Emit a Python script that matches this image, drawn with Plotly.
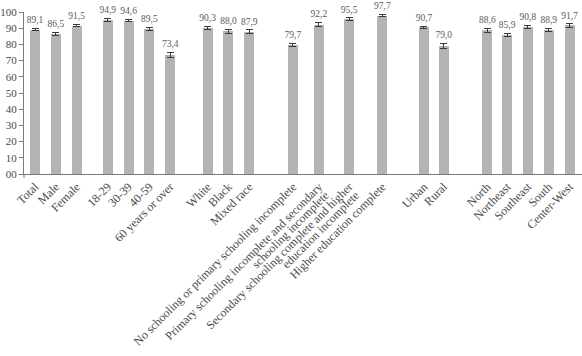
import plotly.graph_objects as go

# ---- data ----
groups = [
    ["Total", "Male", "Female"],
    ["18-29", "30-39", "40-59", "60 years or over"],
    ["White", "Black", "Mixed race"],
    ["No schooling or primary schooling incomplete",
     "Primary schooling incomplete and secondary\nschooling incomplete",
     "Secondary schooling complete and higher\neducation incomplete",
     "Higher education complete"],
    ["Urban", "Rural"],
    ["North", "Northeast", "Southeast", "South", "Center-West"],
]
values = [89.1, 86.5, 91.5,
          94.9, 94.6, 89.5, 73.4,
          90.3, 88.0, 87.9,
          79.7, 92.2, 95.5, 97.7,
          90.7, 79.0,
          88.6, 85.9, 90.8, 88.9, 91.7]
errors = [0.6, 0.7, 0.7,
          1.0, 0.7, 1.0, 1.5,
          0.8, 1.5, 1.0,
          0.8, 1.2, 0.8, 0.7,
          0.6, 1.5,
          1.5, 0.9, 0.9, 1.2, 1.0]
y_ticks = [0, 10, 20, 30, 40, 50, 60, 70, 80, 90, 100]
y_tick_labels = ["00", "10", "20", "30", "40", "50", "60", "70", "80", "90", "100"]

# ---- layout of slots (spacing between groups / within groups) ----
group_gap = [0, 1.5, 1.8, 2.1, 2.0, 2.1]
group_step = [[1, 1], [1, 1, 1], [1, 1], [1.25, 1.45, 1.6], [0.95], [0.95, 1, 1, 1]]
line2_shift = 0.72          # tick shift (slot units) emulating a second label line
line2_pad = "\u00a0" * 4    # trailing padding for the second line

labels, xpos = [], []
cur = None
for gi, grp in enumerate(groups):
    for i, lab in enumerate(grp):
        if cur is None:
            cur = 0.0
        elif i == 0:
            cur += group_gap[gi]
        else:
            cur += group_step[gi][i - 1]
        labels.append(lab)
        xpos.append(cur)

# tick labels: multi-line labels are split so that lines stay end-aligned
tick_vals, tick_text = [], []
for x, lab in zip(xpos, labels):
    parts = lab.split("\n")
    tick_vals.append(x)
    tick_text.append(parts[0])
    for k, p in enumerate(parts[1:], start=1):
        tick_vals.append(x + line2_shift * k)
        tick_text.append(p + line2_pad * k)

text_vals = [f"{v:.1f}".replace(".", ",") for v in values]
tops = [v + e for v, e in zip(values, errors)]

font_family = "Liberation Serif, Times New Roman, serif"

fig = go.Figure()
fig.add_trace(go.Bar(
    x=xpos, y=values, width=0.48,
    marker=dict(color="#b4b4b4", line=dict(width=0)),
    error_y=dict(type="data", array=errors, visible=True,
                 color="#3a3a3a", thickness=1, width=3.5),
    hoverinfo="skip",
))
fig.add_trace(go.Scatter(
    x=xpos, y=tops, mode="markers+text", text=text_vals,
    textposition="top center",
    marker=dict(size=3, opacity=0),
    textfont=dict(family=font_family, size=9.5, color="#5a5a5a"),
    cliponaxis=False, hoverinfo="skip",
))

fig.update_layout(
    width=582, height=356,
    margin=dict(l=24, r=0, t=11.5, b=182),
    paper_bgcolor="white", plot_bgcolor="white",
    showlegend=False,
    bargap=0,
    xaxis=dict(
        range=[-0.53, 26.3],
        tickmode="array", tickvals=tick_vals, ticktext=tick_text,
        tickangle=-45,
        tickfont=dict(family=font_family, size=12, color="#4a4a4a"),
        showline=True, linecolor="#7a7a7a", linewidth=1,
        showgrid=False, zeroline=False, ticks="",
    ),
    yaxis=dict(
        range=[0, 100],
        tickmode="array", tickvals=y_ticks, ticktext=y_tick_labels,
        tickfont=dict(family=font_family, size=11, color="#4a4a4a"),
        showline=True, linecolor="#7a7a7a", linewidth=1,
        ticks="outside", ticklen=4, tickcolor="#7a7a7a",
        showgrid=False, zeroline=False,
    ),
    shapes=[dict(type="line", xref="paper", yref="paper",
                 x0=0, x1=0, y0=0, y1=-0.025,
                 line=dict(color="#7a7a7a", width=1))],
)

fig.write_html("out.html")
